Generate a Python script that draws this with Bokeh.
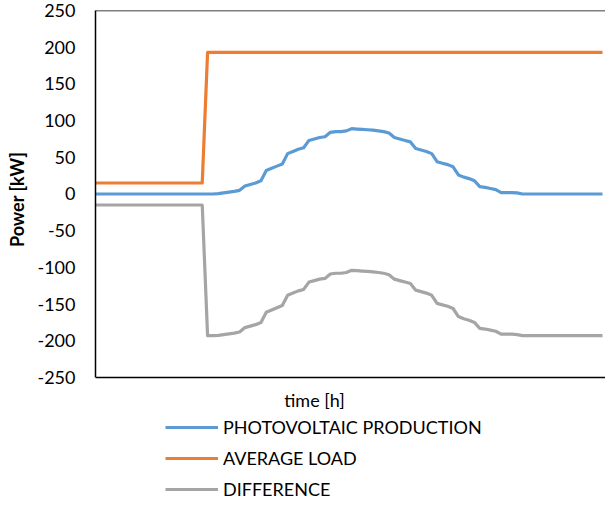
from bokeh.plotting import figure
from bokeh.models import (Range1d, Legend, LegendItem, Span, FixedTicker, Label,
                          PrintfTickFormatter)
from bokeh.embed import file_html
from bokeh.resources import INLINE

# time axis: 15-minute steps over 24 h
hours = [i * 0.25 for i in range(96)]

pv_production = [
    0, 0, 0, 0, 0, 0, 0, 0, 0, 0, 0, 0, 0, 0, 0, 0, 0, 0, 0, 0, 0, 0, 0,
    0.5, 1.5, 2.5, 3.5, 5, 11, 13, 15, 18, 32, 35, 38, 41, 55, 58, 61, 63,
    73, 75, 77, 78, 84, 85, 85, 86, 89, 88.5, 88, 87.5, 87, 86, 85, 83,
    77, 75, 73, 71, 62, 60, 58, 55, 44, 42, 40, 37, 26, 23, 21, 18,
    10, 9, 7.5, 6, 2, 2, 2, 1.5,
    0, 0, 0, 0, 0, 0, 0, 0, 0, 0, 0, 0, 0, 0, 0, 0,
]

average_load = [15] * 21 + [193] * 75

difference = [
    -15, -15, -15, -15, -15, -15, -15, -15, -15, -15, -15, -15, -15, -15,
    -15, -15, -15, -15, -15, -15, -15, -193, -193,
    -192.5, -191.5, -190.5, -189.5, -188, -182, -180, -178, -175,
    -161, -158, -155, -152, -138, -135, -132, -130, -120, -118, -116, -115,
    -109, -108, -108, -107, -104, -104.5, -105, -105.5, -106, -107, -108, -110,
    -116, -118, -120, -122, -131, -133, -135, -138, -149, -151, -153, -156,
    -167, -170, -172, -175, -183, -184, -185.5, -187, -191, -191, -191, -191.5,
    -193, -193, -193, -193, -193, -193, -193, -193, -193, -193, -193, -193,
    -193, -193, -193, -193,
]

y_ticks = [-250, -200, -150, -100, -50, 0, 50, 100, 150, 200, 250]
y_min, y_max = -250, 250

series_names = ["PHOTOVOLTAIC PRODUCTION", "AVERAGE LOAD", "DIFFERENCE"]
series_colors = ["#5B9BD5", "#ED7D31", "#A5A5A5"]

FONT = "Lato"

# frame extends down to the bottom of the page so the legend / x title fit inside
p = figure(width=605, height=506, output_backend="svg", toolbar_location=None,
           x_axis_location=None,
           x_range=Range1d(0, 23.89), y_range=Range1d(-425.75, y_max),
           min_border_left=95, min_border_right=0, min_border_top=10,
           min_border_bottom=0)

p.outline_line_color = None
p.xgrid.visible = False
p.ygrid.visible = False
p.background_fill_color = "white"
p.border_fill_color = "white"

# y axis
p.yaxis.bounds = (y_min, y_max)
p.yaxis.ticker = FixedTicker(ticks=y_ticks)
p.yaxis.formatter = PrintfTickFormatter(format="%d")
p.yaxis.major_tick_line_color = None
p.yaxis.minor_tick_line_color = None
p.yaxis.major_tick_out = 0
p.yaxis.major_label_standoff = 20
p.yaxis.major_label_text_font = FONT
p.yaxis.major_label_text_font_size = "18px"
p.yaxis.major_label_text_color = "black"
p.yaxis.axis_line_color = "black"
p.yaxis.axis_line_width = 1.5
# leading no-break spaces move the centred title up to the middle of the plot area
p.yaxis.axis_label = "\u00a0" * 27 + "Power [kW]"
p.yaxis.axis_label_text_font = FONT
p.yaxis.axis_label_text_font_style = "bold"
p.yaxis.axis_label_text_font_size = "18px"
p.yaxis.axis_label_text_color = "black"
p.yaxis.axis_label_standoff = 6

# plot-area top and bottom edges
p.add_layout(Span(location=y_max, dimension="width", line_color="black", line_width=1.5))
p.add_layout(Span(location=y_min, dimension="width", line_color="black", line_width=1.5))

renderers = []
for ys, c in zip([pv_production, average_load, difference], series_colors):
    r = p.line(hours, ys, line_color=c, line_width=3.2, line_join="round")
    renderers.append(r)

p.add_layout(Label(x=10.26, y=-280, text="time [h]", text_align="center",
                   text_baseline="middle", text_font=FONT, text_font_size="18px",
                   text_color="black"))

legend = Legend(
    items=[LegendItem(label=n, renderers=[r]) for n, r in zip(series_names, renderers)],
    location=(70, 6), orientation="vertical",
    glyph_width=53, glyph_height=20, label_height=20, spacing=9,
    label_standoff=5, padding=0, margin=0,
    border_line_color=None, background_fill_alpha=0,
    label_text_font=FONT, label_text_font_size="18px", label_text_color="black",
)
p.add_layout(legend)

open("out.html", "w").write(file_html(p, INLINE))
